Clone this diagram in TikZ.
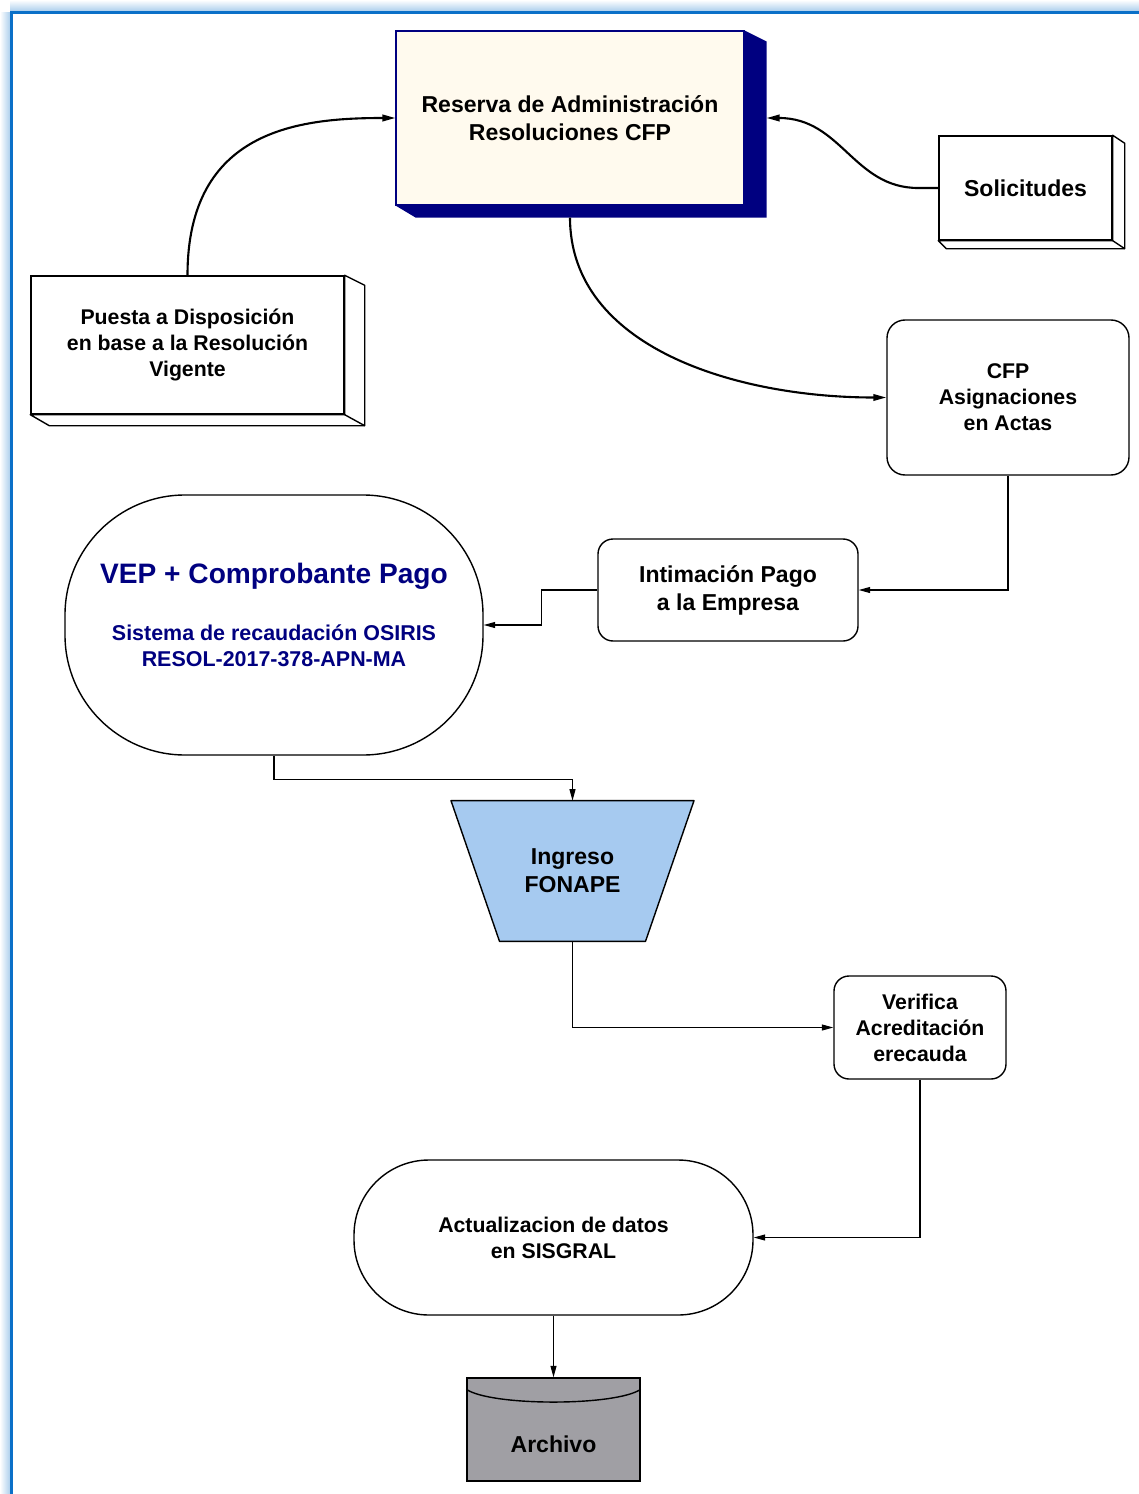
\documentclass[tikz,border=0pt]{standalone}
\usepackage{fontspec}
\setmainfont{Liberation Sans}
\usetikzlibrary{arrows.meta, positioning, calc, backgrounds}
\definecolor{cfpnavy}{RGB}{0,0,128}
\definecolor{cfpcream}{RGB}{255,250,238}
\definecolor{cfpblue}{RGB}{166,202,240}
\definecolor{cfpgray}{RGB}{160,159,164}
\definecolor{frameblue}{RGB}{10,112,200}

\begin{document}
\begin{tikzpicture}[
    font=\bfseries\fontsize{13.1}{15.9}\selectfont,
    txtsmall/.style={
        font=\bfseries\fontsize{12.1}{14.8}\selectfont
    },
    resbox/.style={
        draw=cfpnavy,
        fill=cfpcream,
        line width=0.6pt,
        align=center,
        inner sep=0pt
    },
    frontbox/.style={
        draw=black,
        fill=white,
        line width=0.8pt,
        align=center,
        inner sep=0pt
    },
    roundbox/.style={
        frontbox,
        rounded corners=0.3cm
    },
    extrude/.style={
        draw=black,
        fill=white,
        line width=0.8pt,
        line join=round
    },
    flow/.style={
        -{Triangle[length=2.3mm,width=1.2mm]},
        line width=0.6pt
    },
    curveflow/.style={
        -{Triangle[length=2.6mm,width=1.3mm]},
        line width=1.2pt
    }
]
\useasboundingbox (0,0) rectangle (22.78,-29.88);

% ------------------------------------------------------------
% Frame
% ------------------------------------------------------------
\shade[left color=white, right color=frameblue!35] (0,-0.25) rectangle (0.21,-29.88);
\shade[top color=white, bottom color=frameblue!35] (0.21,0) rectangle (22.78,-0.23);
\draw[frameblue, line width=1.4pt] (0.23,-29.88) -- (0.23,-0.25) -- (22.78,-0.25);

% ------------------------------------------------------------
% Top: reserva and its inputs
% ------------------------------------------------------------
\node[resbox, minimum width=6.96cm, minimum height=3.48cm] (Reserva) at (11.40,-2.36)
    {Reserva de Administración\\Resoluciones CFP};
\fill[cfpnavy] (Reserva.north east) -- ++(0.44,-0.22)
    -- ([shift={(0.44,-0.24)}]Reserva.south east)
    -- ([shift={(0.40,-0.24)}]Reserva.south west)
    -- (Reserva.south west) -- (Reserva.south east) -- cycle;
\coordinate (ResRight) at ([xshift=0.44cm]Reserva.east);
\coordinate (ResBottom) at ([yshift=-0.24cm]Reserva.south);

% Solicitudes
\node[frontbox, minimum width=3.46cm, minimum height=2.08cm] (Solicitudes) at (20.51,-3.76)
    {Solicitudes};
\draw[extrude] (Solicitudes.north east) -- ++(0.24,-0.16)
    -- ([shift={(0.24,-0.16)}]Solicitudes.south east)
    -- ([shift={(0.16,-0.16)}]Solicitudes.south west)
    -- (Solicitudes.south west) -- (Solicitudes.south east) -- cycle;
\draw[line width=0.8pt] (Solicitudes.south east) -- ++(0.24,-0.16);

% Puesta a Disposicion
\node[frontbox, txtsmall, minimum width=6.26cm, minimum height=2.76cm] (Puesta) at (3.75,-6.90)
    {Puesta a Disposición\\en base a la Resolución\\Vigente};
\draw[extrude] (Puesta.north east) -- ++(0.40,-0.20)
    -- ([shift={(0.40,-0.22)}]Puesta.south east)
    -- ([shift={(0.38,-0.22)}]Puesta.south west)
    -- (Puesta.south west) -- (Puesta.south east) -- cycle;
\draw[line width=0.8pt] (Puesta.south east) -- ++(0.40,-0.22);

% ------------------------------------------------------------
% Middle: asignaciones and pago
% ------------------------------------------------------------
\node[roundbox, txtsmall, rounded corners=0.36cm, minimum width=4.84cm, minimum height=3.10cm] (CFP) at (20.16,-7.95)
    {CFP\\Asignaciones\\en Actas};

\node[roundbox, minimum width=5.20cm, minimum height=2.04cm] (Intimacion) at (14.56,-11.80)
    {Intimación Pago\\a la Empresa};

\node[frontbox, rounded corners=2.4cm, minimum width=8.36cm, minimum height=5.20cm,
      label={[yshift=0.21cm, align=center, text=cfpnavy,
              font=\bfseries\fontsize{12.2}{14.8}\selectfont]center:
        {\fontsize{16}{19}\selectfont VEP + Comprobante Pago}\\[0.62cm]
        Sistema de recaudación OSIRIS\\RESOL-2017-378-APN-MA}] (VEP) at (5.48,-12.50) {};

% Ingreso FONAPE (inverted trapezoid)
\node[align=center, inner sep=0pt, minimum width=4.86cm, minimum height=2.80cm] (Ingreso) at (11.45,-17.42)
    {Ingreso\\FONAPE};
\begin{scope}[on background layer]
\draw[fill=cfpblue, line width=0.8pt, line join=round]
    ([xshift=-2.43cm]Ingreso.north) -- ([xshift=2.43cm]Ingreso.north)
    -- ([xshift=1.46cm]Ingreso.south) -- ([xshift=-1.46cm]Ingreso.south) -- cycle;
\end{scope}

% ------------------------------------------------------------
% Bottom: verificacion, actualizacion, archivo
% ------------------------------------------------------------
\node[roundbox, txtsmall, minimum width=3.44cm, minimum height=2.06cm] (Verifica) at (18.40,-20.55)
    {Verifica\\Acreditación\\erecauda};

\node[frontbox, txtsmall, rounded corners=1.5cm, minimum width=7.98cm, minimum height=3.10cm] (Actualizacion) at (11.07,-24.75)
    {Actualizacion de datos\\en SISGRAL};

\node[frontbox, fill=cfpgray, minimum width=3.46cm, minimum height=2.06cm,
      label={[yshift=-0.29cm]center:Archivo}] (Archivo) at (11.07,-28.59) {};
\draw[line width=0.8pt] ([yshift=-0.24cm]Archivo.north west)
    .. controls +(0.5,-0.34) and +(-0.5,-0.34) .. ([yshift=-0.24cm]Archivo.north east);

% ------------------------------------------------------------
% Connectors
% ------------------------------------------------------------
\draw[curveflow] (Puesta.north) .. controls +(0,2.92) and +(-1.92,0) .. (Reserva.west);
\draw[curveflow] (Solicitudes.west) -- ++(-0.4,0) .. controls +(-1.3,0) and +(1.5,0) .. (ResRight);
\draw[curveflow] (ResBottom) .. controls +(0,-2.6) and +(-3.0,0) .. (CFP.west);

\draw[flow] (CFP.south) |- (Intimacion.east);
\draw[flow] (Intimacion.west) -- ++(-1.12,0) |- (VEP.east);
\draw[flow] (VEP.south) -- ++(0,-0.48) -| (Ingreso.north);
\draw[flow] (Ingreso.south) |- (Verifica.west);
\draw[flow] (Verifica.south) |- (Actualizacion.east);
\draw[flow] (Actualizacion.south) -- (Archivo.north);

\end{tikzpicture}
\end{document}
